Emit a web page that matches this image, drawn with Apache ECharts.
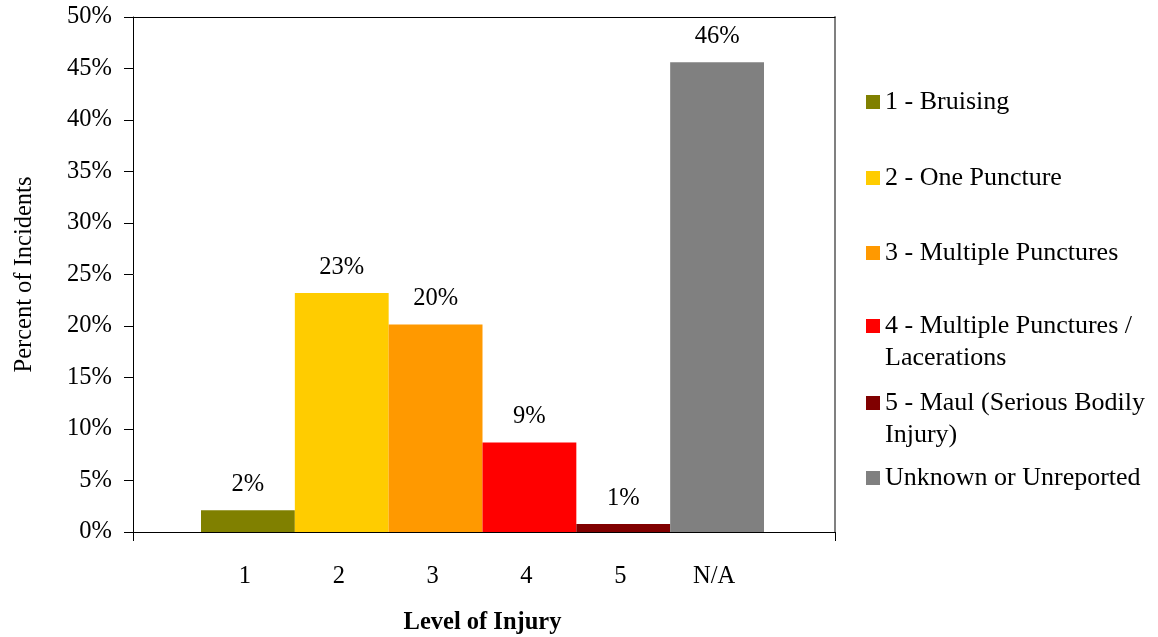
<!DOCTYPE html>
<html>
<head>
<meta charset="utf-8">
<script src="https://cdn.jsdelivr.net/npm/echarts@6/dist/echarts.min.js"></script>
<style>
html,body{margin:0;padding:0;background:#fff;}
#c{width:1158px;height:637px;}
</style>
</head>
<body>
<div id="c"></div>
<script>
// ---- data ----
var CATEGORIES = ['1', '2', '3', '4', '5', 'N/A'];
var VALUES = [2.1, 23.2, 20.15, 8.7, 0.78, 45.6];
var SERIES_NAMES = ['1 - Bruising', '2 - One Puncture', '3 - Multiple Punctures',
  '4 - Multiple Punctures / Lacerations', '5 - Maul (Serious Bodily Injury)', 'Unknown or Unreported'];
var LEGEND_LABELS = ['1 - Bruising', '2 - One Puncture', '3 - Multiple Punctures',
  '4 - Multiple Punctures /\nLacerations', '5 - Maul (Serious Bodily\nInjury)', 'Unknown or Unreported'];
var COLORS = ['#808000', '#FFCC00', '#FF9900', '#FF0000', '#800000', '#808080'];
var Y_MIN = 0, Y_MAX = 50, Y_STEP = 5;
var X_TITLE = 'Level of Injury';
var Y_TITLE = 'Percent of Incidents';

var FONT = '"Liberation Serif", "DejaVu Serif", serif';
var chart = echarts.init(document.getElementById('c'), null, {renderer: 'canvas'});

var series = SERIES_NAMES.map(function (name, i) {
  var data = CATEGORIES.map(function (c, j) { return j === i ? VALUES[i] : '-'; });
  return {
    name: name,
    type: 'bar',
    xAxisIndex: 2,
    yAxisIndex: 2,
    stack: 'all',
    barCategoryGap: '0%',
    data: data,
    itemStyle: {color: COLORS[i]},
    label: {
      show: true,
      position: 'top',
      distance: 13,
      fontFamily: FONT,
      fontSize: 24.5,
      color: '#000',
      formatter: function (p) { return Math.round(p.value) + '%'; }
    },
    emphasis: {disabled: true}
  };
});

var iconCenters = [102, 178, 253, 326, 403, 478];
var legends = SERIES_NAMES.map(function (name, i) {
  var twoLine = LEGEND_LABELS[i].indexOf('\n') >= 0;
  return {
    data: [name],
    left: 866,
    top: iconCenters[i] - (twoLine ? 48 : 16),
    padding: 0,
    orient: 'vertical',
    icon: 'rect',
    itemWidth: 14,
    itemHeight: 14,
    selectedMode: false,
    // a leading blank line keeps the marker level with the first text line
    formatter: function () { return twoLine ? ' \n' + LEGEND_LABELS[i] : LEGEND_LABELS[i]; },
    textStyle: {
      fontFamily: FONT,
      fontSize: 26,
      color: '#000',
      lineHeight: 32
    }
  };
});

var option = {
  animation: false,
  backgroundColor: '#fff',
  grid: [
    {left: 133, right: 323, top: 17, bottom: 105, containLabel: false, outerBoundsMode: 'none'},
    {left: 201, right: 394, top: 17, bottom: 105, containLabel: false, outerBoundsMode: 'none'}
  ],
  xAxis: [
    { // bottom frame with end ticks
      type: 'value', gridIndex: 0, min: 0, max: 1, interval: 1, position: 'bottom',
      axisLine: {show: true, lineStyle: {color: '#000', width: 1}},
      axisTick: {show: true, length: 9, lineStyle: {color: '#000'}},
      axisLabel: {show: false}, splitLine: {show: false}
    },
    { // top frame
      type: 'value', gridIndex: 0, min: 0, max: 1, position: 'top',
      axisLine: {show: true, onZero: false, lineStyle: {color: '#000', width: 1}},
      axisTick: {show: false}, axisLabel: {show: false}, splitLine: {show: false}
    },
    { // category axis for bars
      type: 'category', gridIndex: 1, data: CATEGORIES,
      axisLine: {show: false}, axisTick: {show: false}, splitLine: {show: false},
      axisLabel: {fontFamily: FONT, fontSize: 24.5, color: '#000', margin: 32, padding: [0, 6, 0, 0]},
      name: X_TITLE, nameLocation: 'middle', nameGap: 78,
      nameTextStyle: {fontFamily: FONT, fontSize: 24.5, fontWeight: 'bold', color: '#000'}
    }
  ],
  yAxis: [
    {
      type: 'value', gridIndex: 0, min: Y_MIN, max: Y_MAX, interval: Y_STEP, position: 'left',
      axisLine: {show: true, lineStyle: {color: '#000', width: 1}},
      axisTick: {show: true, length: 9, lineStyle: {color: '#000'}},
      axisLabel: {fontFamily: FONT, fontSize: 24.5, color: '#000', margin: 21, formatter: '{value}%'},
      splitLine: {show: false},
      name: Y_TITLE, nameLocation: 'middle', nameGap: 96,
      nameTextStyle: {fontFamily: FONT, fontSize: 24.5, color: '#000'}
    },
    { // right frame
      type: 'value', gridIndex: 0, min: Y_MIN, max: Y_MAX, position: 'right',
      axisLine: {show: true, onZero: false, lineStyle: {color: '#808080', width: 2}},
      axisTick: {show: false}, axisLabel: {show: false}, splitLine: {show: false}
    },
    {
      type: 'value', gridIndex: 1, min: Y_MIN, max: Y_MAX, show: false,
      splitLine: {show: false}
    }
  ],
  legend: legends,
  series: series
};
chart.setOption(option);
</script>
</body>
</html>
